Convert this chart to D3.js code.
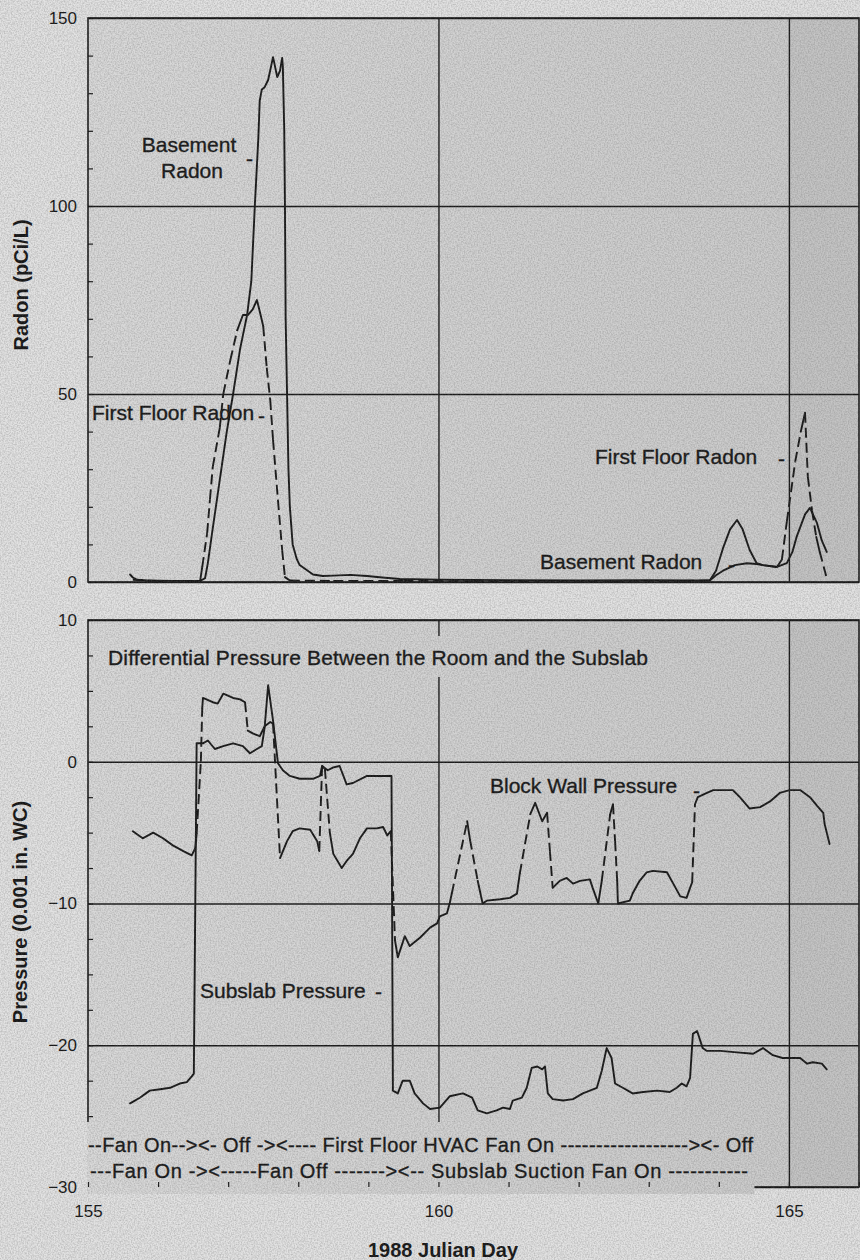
<!DOCTYPE html>
<html>
<head>
<meta charset="utf-8">
<script src="https://cdn.jsdelivr.net/npm/d3@7"></script>
<style>
  body { margin: 0; background: #e2e2e2; }
  svg { display: block; font-family: "Liberation Sans", Arial, Helvetica, sans-serif; }
  .tick-label text { font-size: 17px; fill: #141414; }
  .axis-title { font-size: 20px; font-weight: bold; fill: #141414; }
  .note { font-size: 21px; fill: #141414; stroke: #141414; stroke-width: 0.35; }
  .legend { font-size: 20px; fill: #141414; stroke: #141414; stroke-width: 0.35; }
</style>
</head>
<body>
<svg id="chart" width="860" height="1260"></svg>
<script>
// tick values
const DAY_TICKS = [155, 160, 165];
const DAY_MINOR = d3.range(155, 167);
const DAY_GRID = [160, 165];
const RADON_TICKS = [0, 50, 100, 150];
const RADON_MINOR = d3.range(0, 151, 10);
const PRESSURE_TICKS = [-30, -20, -10, 0, 10];
const PRESSURE_MINOR = d3.range(-30, 10.1, 2.5);

// radon series [julian day, pCi/L]
const basementRadon = [
  [155.60, 2.0], [155.64, 1.2], [155.70, 0.6], [155.85, 0.4], [156.20, 0.3],
  [156.60, 0.3], [156.67, 1], [156.71, 5], [156.77, 13], [156.84, 22],
  [156.91, 31], [156.98, 40], [157.07, 50], [157.17, 62], [157.27, 71],
  [157.33, 80], [157.38, 100], [157.43, 118], [157.45, 128], [157.48, 131],
  [157.52, 131.6], [157.57, 133.5], [157.64, 139.6], [157.70, 134.3],
  [157.74, 136], [157.77, 139.4], [157.78, 137], [157.80, 120], [157.81, 100],
  [157.82, 70], [157.84, 50], [157.86, 30], [157.88, 20], [157.92, 10],
  [157.98, 6], [158.02, 4.5], [158.21, 2], [158.35, 1.6], [158.50, 1.7],
  [158.74, 1.9], [158.98, 1.6], [159.20, 1.2], [159.45, 0.8], [160.0, 0.6],
  [161.0, 0.5], [162.0, 0.4], [163.0, 0.5], [163.6, 0.4], [163.87, 0.4],
  [163.96, 1.8], [164.06, 3], [164.23, 4.5], [164.40, 5], [164.54, 4.8],
  [164.63, 4.5], [164.83, 4], [164.97, 5], [165.05, 8], [165.11, 12],
  [165.23, 18], [165.30, 19.7], [165.40, 15.7], [165.47, 11], [165.54, 8]
];
const firstFloorRadon = [
  [155.64, 0.6], [156.0, 0.3], [156.60, 0.3], [156.63, 4], [156.70, 13],
  [156.74, 22], [156.78, 30.6], [156.88, 41], [156.93, 50], [157.03, 59],
  [157.13, 67], [157.21, 71], [157.28, 71], [157.35, 72.5], [157.41, 75],
  [157.45, 72], [157.50, 68], [157.55, 57], [157.60, 48.4], [157.64, 37.8],
  [157.71, 21.8], [157.77, 8.5], [157.81, 1.3], [157.88, 0.4], [158.5, 0.3],
  [159.5, 0.3], [160.5, 0.2], [161.5, 0.3], [162.5, 0.3], [163.5, 0.3],
  [163.87, 0.4], [163.96, 3], [164.06, 9], [164.16, 14], [164.26, 16.5],
  [164.34, 14], [164.44, 8.5], [164.54, 5], [164.63, 4.5], [164.83, 4],
  [164.90, 6], [164.97, 16], [165.09, 32], [165.17, 40], [165.23, 45],
  [165.27, 28], [165.33, 19], [165.39, 12], [165.44, 8], [165.54, 1]
];

// pressure series [julian day, 0.001 in. WC]
const subslabPressure = [
  [155.60, -24.1], [155.74, -23.7], [155.88, -23.2], [156.03, -23.1],
  [156.17, -23.0], [156.31, -22.7], [156.41, -22.6], [156.48, -22.2],
  [156.51, -22.0], [156.55, 1.3], [156.64, 1.3], [156.71, 1.5], [156.81, 0.9],
  [156.93, 1.1], [157.07, 1.3], [157.21, 1.1], [157.31, 0.6], [157.41, 0.9],
  [157.48, 1.1], [157.52, 2.4], [157.57, 5.4], [157.64, 2.9], [157.71, -0.1],
  [157.78, -0.6], [157.88, -1.0], [158.02, -1.2], [158.21, -1.2],
  [158.31, -1.0], [158.34, -0.3], [158.42, -0.6], [158.50, -0.4],
  [158.59, -0.3], [158.69, -1.6], [158.78, -1.5], [158.98, -1.0],
  [159.31, -1.0], [159.33, -1.0], [159.35, -23.2], [159.42, -23.4],
  [159.49, -22.5], [159.59, -22.5], [159.66, -23.4], [159.78, -24.1],
  [159.88, -24.5], [160.02, -24.4], [160.16, -23.6], [160.35, -23.4],
  [160.48, -23.7], [160.56, -24.6], [160.69, -24.8], [160.83, -24.6],
  [160.92, -24.4], [161.02, -24.5], [161.06, -23.9], [161.19, -23.7],
  [161.26, -23.0], [161.33, -21.6], [161.41, -21.5], [161.48, -21.7],
  [161.52, -21.5], [161.56, -23.4], [161.63, -23.8], [161.78, -23.9],
  [161.92, -23.8], [162.06, -23.4], [162.16, -23.2], [162.26, -23.0],
  [162.33, -21.8], [162.40, -20.2], [162.47, -20.9], [162.52, -22.7],
  [162.63, -23.0], [162.77, -23.4], [162.92, -23.3], [163.12, -23.2],
  [163.30, -23.3], [163.40, -23.0], [163.47, -22.7], [163.54, -22.9],
  [163.59, -22.3], [163.63, -19.2], [163.69, -19.0], [163.77, -20.2],
  [163.83, -20.4], [164.02, -20.4], [164.26, -20.5], [164.49, -20.6],
  [164.63, -20.2], [164.77, -20.7], [164.91, -20.9], [165.16, -20.9],
  [165.26, -21.3], [165.34, -21.2], [165.47, -21.3], [165.54, -21.7]
];
const blockWallPressure = [
  [155.64, -4.9], [155.78, -5.4], [155.93, -5.0], [156.07, -5.4],
  [156.21, -5.9], [156.36, -6.3], [156.48, -6.6], [156.53, -6.1],
  [156.55, -5.1], [156.61, 0], [156.63, 3.8], [156.64, 4.5], [156.78, 4.2],
  [156.85, 4.1], [156.93, 4.8], [157.07, 4.5], [157.17, 4.4], [157.24, 4.2],
  [157.28, 2.2], [157.35, 2.0], [157.45, 1.8], [157.52, 2.5], [157.60, 2.8],
  [157.64, 2.7], [157.74, -6.8], [157.84, -5.6], [157.92, -4.9],
  [158.02, -4.7], [158.17, -4.8], [158.27, -5.6], [158.30, -6.3],
  [158.34, -0.3], [158.38, -0.5], [158.45, -5.0], [158.50, -6.5],
  [158.62, -7.5], [158.69, -7.0], [158.78, -6.5], [158.88, -5.4],
  [158.98, -4.7], [159.12, -4.7], [159.21, -4.6], [159.27, -5.2],
  [159.32, -4.9], [159.38, -12.6], [159.42, -13.8], [159.52, -12.3],
  [159.59, -13.0], [159.74, -12.4], [159.88, -11.7], [159.98, -11.4],
  [160.02, -10.9], [160.12, -10.7], [160.16, -10.0], [160.19, -9.3],
  [160.41, -4.2], [160.45, -5.5], [160.56, -8.4], [160.63, -10.0],
  [160.69, -9.8], [160.88, -9.7], [161.02, -9.6], [161.12, -9.3],
  [161.16, -7.9], [161.31, -3.7], [161.38, -2.9], [161.48, -4.2],
  [161.55, -3.6], [161.59, -6.3], [161.63, -8.9], [161.73, -8.4],
  [161.83, -8.2], [161.92, -8.6], [162.02, -8.4], [162.16, -8.3],
  [162.20, -8.9], [162.28, -10.0], [162.33, -8.4], [162.45, -3.7],
  [162.49, -3.0], [162.52, -5.6], [162.55, -8.4], [162.56, -10.0],
  [162.73, -9.8], [162.77, -9.3], [162.87, -8.4], [162.97, -7.8],
  [163.06, -7.7], [163.26, -7.8], [163.35, -8.6], [163.45, -9.5],
  [163.54, -9.6], [163.59, -8.9], [163.62, -8.5], [163.66, -3.0],
  [163.70, -2.5], [163.83, -2.2], [163.92, -2.0], [164.20, -2.0],
  [164.30, -2.5], [164.44, -3.3], [164.59, -3.2], [164.73, -2.8],
  [164.87, -2.2], [165.01, -2.0], [165.16, -2.0], [165.30, -2.5],
  [165.40, -3.1], [165.49, -3.6], [165.51, -4.4], [165.58, -5.8]
];

const svg = d3.select("#chart");
const INK = "#161616";

// scales
const x = d3.scaleLinear().domain([155, 166]).range([88, 859]);
const yRadon = d3.scaleLinear().domain([0, 150]).range([582, 18]);
const yPress = d3.scaleLinear().domain([-30, 10]).range([1187, 620]);

// paper texture and plot shading (gradient in page space so patches blend)
const defs = svg.append("defs");
const noise = defs.append("filter").attr("id", "paper")
  .attr("x", 0).attr("y", 0).attr("width", 1).attr("height", 1);
noise.append("feTurbulence").attr("type", "fractalNoise")
  .attr("baseFrequency", 0.7).attr("numOctaves", 2).attr("seed", 3);
noise.append("feColorMatrix").attr("type", "matrix")
  .attr("values", "0 0 0 0 0.15  0 0 0 0 0.15  0 0 0 0 0.15  0.9 0 0 0 -0.3");
const grad = defs.append("linearGradient").attr("id", "plotbg")
  .attr("gradientUnits", "userSpaceOnUse")
  .attr("x1", x.range()[0]).attr("x2", x.range()[1]).attr("y1", 0).attr("y2", 0);
grad.append("stop").attr("offset", "0%").attr("stop-color", "#d9d9d9");
grad.append("stop").attr("offset", "100%").attr("stop-color", "#cacaca");

svg.append("rect").attr("width", 860).attr("height", 1260).attr("fill", "#e2e2e2");

// one panel: background, grid, frame, left ticks and labels
function setupPanel(y, majorTicks, minorTicks) {
  const g = svg.append("g");
  const [x0, x1] = x.range();
  const [yb, yt] = y.range();

  g.append("rect")
    .attr("x", x0).attr("y", yt).attr("width", x1 - x0).attr("height", yb - yt)
    .attr("fill", "url(#plotbg)");
  g.append("rect")
    .attr("x", x(165)).attr("y", yt).attr("width", x1 - x(165)).attr("height", yb - yt)
    .attr("fill", "#bdbdbd").attr("opacity", 0.5);

  // horizontal grid
  g.append("g")
    .attr("class", "grid-y")
    .attr("transform", `translate(${x0},0)`)
    .call(d3.axisRight(y).tickValues(majorTicks).tickSize(x1 - x0).tickFormat(""))
    .call((s) => s.select(".domain").remove());

  // vertical grid
  g.append("g")
    .attr("class", "grid-x")
    .attr("transform", `translate(0,${yt})`)
    .call(d3.axisBottom(x).tickValues(DAY_GRID).tickSize(yb - yt).tickFormat(""))
    .call((s) => s.select(".domain").remove());

  g.selectAll(".grid-y line, .grid-x line")
    .attr("stroke", INK).attr("stroke-width", 1.4);

  // frame
  g.append("rect")
    .attr("x", x0).attr("y", yt).attr("width", x1 - x0).attr("height", yb - yt)
    .attr("fill", "none").attr("stroke", INK).attr("stroke-width", 1.6);

  // minor ticks pointing inward
  g.append("g")
    .attr("transform", `translate(${x0},0)`)
    .call(d3.axisLeft(y).tickValues(minorTicks).tickSize(-5).tickFormat(""))
    .call((s) => s.select(".domain").remove())
    .selectAll("line").attr("stroke", INK).attr("stroke-width", 1.2);

  // tick labels
  g.append("g")
    .attr("class", "tick-label")
    .attr("transform", `translate(${x0},0)`)
    .call(d3.axisLeft(y).tickValues(majorTicks).tickSize(0).tickPadding(11)
      .tickFormat((d) => d3.format("d")(d).replace("-", "\u2212")))
    .call((s) => s.select(".domain").remove())
    .selectAll("text").attr("font-family", null).attr("font-size", null);

  return g;
}

// solid where the trace is dense, dashed on long steps (plotter style)
function drawSeries(g, data, y, dashed) {
  const line = d3.line().x((d) => x(d[0])).y((d) => y(d[1]));
  const runs = [];
  d3.pairs(data).forEach((p) => {
    const len = Math.hypot(x(p[1][0]) - x(p[0][0]), y(p[1][1]) - y(p[0][1]));
    const long = dashed && len > 25;
    const last = runs[runs.length - 1];
    if (last && !last.long && !long) last.pts.push(p[1]);
    else runs.push({ long, pts: [p[0], p[1]] });
  });
  g.append("g")
    .selectAll("path")
    .data(runs)
    .join("path")
    .attr("d", (r) => line(r.pts))
    .attr("fill", "none")
    .attr("stroke", INK)
    .attr("stroke-width", 1.9)
    .attr("stroke-linejoin", "round")
    .attr("stroke-linecap", (r) => (r.long ? "butt" : "round"))
    .attr("stroke-dasharray", (r) => (r.long ? "10,5" : null));
}

function addNote(g, text, px, py, cls = "note", anchor = "start") {
  return g.append("text").attr("class", cls)
    .attr("x", px).attr("y", py).attr("text-anchor", anchor).text(text);
}

// text sitting on an opaque patch that interrupts the grid
function addBoxedNote(g, text, px, py, cls, padX, padTop, padBottom, length) {
  const box = g.append("rect").attr("fill", "url(#plotbg)");
  const t = addNote(g, text, px, py, cls);
  if (length) t.attr("textLength", length).attr("lengthAdjust", "spacing");
  const b = t.node().getBBox();
  box.attr("x", b.x - padX).attr("y", b.y - padTop)
    .attr("width", b.width + 2 * padX).attr("height", b.height + padTop + padBottom);
  return t;
}

// ---------- top panel: radon ----------
const radonPanel = setupPanel(yRadon, RADON_TICKS, RADON_MINOR);
drawSeries(radonPanel, basementRadon, yRadon, false);
drawSeries(radonPanel, firstFloorRadon, yRadon, true);

addNote(radonPanel, "Basement", 189, 152, "note", "middle");
addNote(radonPanel, "Radon", 192, 178, "note", "middle");
addNote(radonPanel, "-", 246, 166);
addNote(radonPanel, "First Floor Radon", 92, 420);
addNote(radonPanel, "-", 258, 423);
addNote(radonPanel, "First Floor Radon", 595, 464);
addNote(radonPanel, "-", 778, 466);
addNote(radonPanel, "Basement Radon", 540, 569);
addNote(radonPanel, "-", 728, 572);

// ---------- bottom panel: pressure ----------
const pressurePanel = setupPanel(yPress, PRESSURE_TICKS, PRESSURE_MINOR);

addBoxedNote(pressurePanel, "Differential Pressure Between the Room and the Subslab",
  108, 665, "note", 2, 10, 8, 540);

addBoxedNote(pressurePanel,
  "--Fan On--><- Off -><---- First Floor HVAC Fan On ------------------><-  Off",
  88, 1152, "legend", 1, 12, 38, 665);
addNote(pressurePanel, "---Fan On -><-----Fan Off -------><-- Subslab Suction Fan On -----------",
  90, 1178, "legend").attr("textLength", 658).attr("lengthAdjust", "spacing");

drawSeries(pressurePanel, subslabPressure, yPress, false);
drawSeries(pressurePanel, blockWallPressure, yPress, true);

addNote(pressurePanel, "Block Wall Pressure", 490, 793);
addNote(pressurePanel, "-", 693, 798);
addNote(pressurePanel, "Subslab Pressure", 200, 998);
addNote(pressurePanel, "-", 375, 999);

// x axis: inward day ticks and labels
const [yBase] = yPress.range();
pressurePanel.append("g")
  .attr("transform", `translate(0,${yBase})`)
  .call(d3.axisBottom(x).tickValues(DAY_MINOR).tickSize(-5).tickFormat(""))
  .call((s) => s.select(".domain").remove())
  .selectAll("line").attr("stroke", INK).attr("stroke-width", 1.2);
pressurePanel.append("g")
  .attr("class", "tick-label")
  .attr("transform", `translate(0,${yBase})`)
  .call(d3.axisBottom(x).tickValues(DAY_TICKS).tickSize(0).tickPadding(18).tickFormat(d3.format("d")))
  .call((s) => s.select(".domain").remove())
  .selectAll("text").attr("font-family", null).attr("font-size", null);

// axis titles
svg.append("text").attr("class", "axis-title")
  .attr("text-anchor", "middle").attr("x", 443).attr("y", 1257)
  .text("1988 Julian Day");
svg.append("text").attr("class", "axis-title")
  .attr("text-anchor", "middle")
  .attr("transform", "translate(28,285) rotate(-90)")
  .text("Radon (pCi/L)");
svg.append("text").attr("class", "axis-title")
  .attr("text-anchor", "middle")
  .attr("transform", "translate(27,912) rotate(-90)")
  .text("Pressure (0.001 in. WC)");

// light paper grain over everything
svg.append("rect").attr("width", 860).attr("height", 1260)
  .attr("filter", "url(#paper)").attr("opacity", 0.7)
  .attr("pointer-events", "none");
</script>
</body>
</html>
